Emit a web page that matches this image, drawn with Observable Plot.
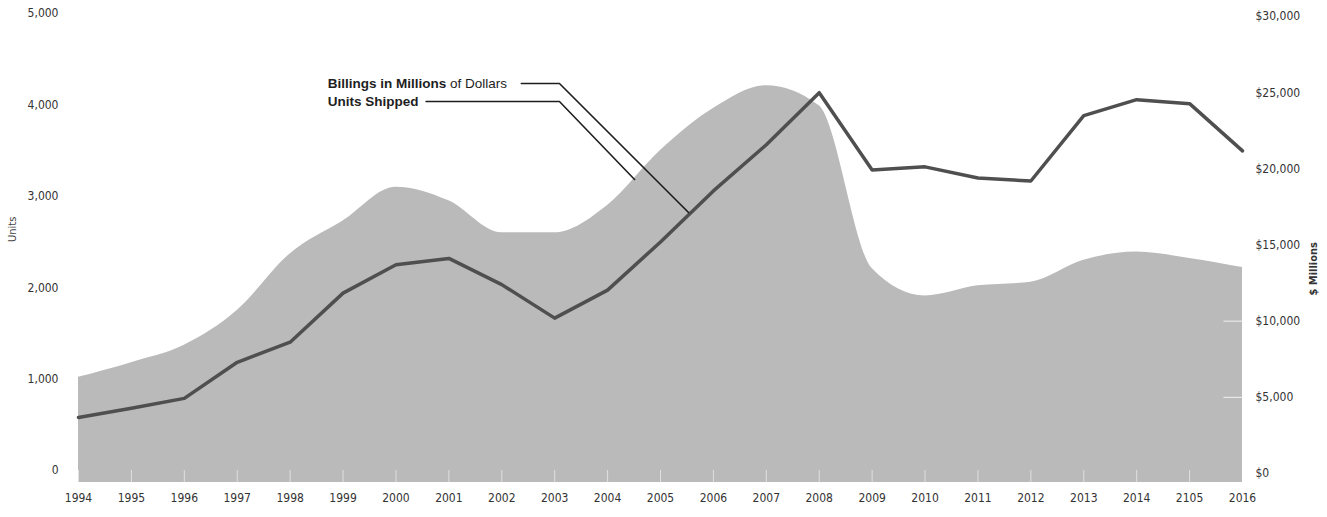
<!DOCTYPE html>
<html>
<head>
<meta charset="utf-8">
<script src="https://cdn.jsdelivr.net/npm/d3@7"></script>
<script src="https://cdn.jsdelivr.net/npm/@observablehq/plot@0.6"></script>
<style>
  body { margin: 0; background: #fff; }
  #chart svg { font-family: "Liberation Sans Narrow", "DejaVu Sans Condensed", "Liberation Sans", sans-serif; }
</style>
</head>
<body>
<div id="chart"></div>
<script>
// ---- data ----
const years = [1994,1995,1996,1997,1998,1999,2000,2001,2002,2003,2004,2005,2006,2007,2008,2009,2010,2011,2012,2013,2014,2015,2016];
const yearLabels = ["1994","1995","1996","1997","1998","1999","2000","2001","2002","2003","2004","2005","2006","2007","2008","2009","2010","2011","2012","2013","2014","2105","2016"];
const unitsShipped = [1020,1180,1370,1750,2370,2730,3100,2950,2600,2600,2900,3500,3960,4210,3990,2210,1910,2020,2060,2300,2390,2320,2220];
const billingsMillions = [3680,4280,4930,7300,8620,11840,13700,14120,12400,10200,12040,15200,18550,21580,25000,19930,20130,19400,19200,23490,24540,24280,21180];
const unitTicks = [0,1000,2000,3000,4000,5000];
const dollarTicks = [0,5000,10000,15000,20000,25000,30000];
const dollarsPerUnit = 6;          // right axis $ per left-axis unit
const areaBaseline = -130;         // area extends slightly below the zero line

// annotation leaders, in data space (year, units)
const billingsLeaderYears = [2002.37, 2003.09, 2005.53];
const billingsLeaderUnits = [4234, 4234, 2823];
const unitsLeaderYears = [2000.57, 2003.09, 2004.51];
const unitsLeaderUnits = [4037, 4037, 3184];
const labelYear = 1998.71;
const billingsLabelUnits = 4234;
const unitsLabelUnits = 4037;

// ---- tables ----
const table = years.map((year, i) => ({year, units: unitsShipped[i], billings: billingsMillions[i]}));
const leaders = [
  ...billingsLeaderYears.map((year, i) => ({series: "billings", year, units: billingsLeaderUnits[i]})),
  ...unitsLeaderYears.map((year, i) => ({series: "units", year, units: unitsLeaderUnits[i]}))
];
const labelOf = new Map(years.map((y, i) => [y, yearLabels[i]]));

const chart = Plot.plot({
  width: 1327,
  height: 517,
  marginLeft: 78,
  marginRight: 85,
  marginTop: 13,
  marginBottom: 47,
  x: {domain: [years[0], years[years.length - 1]]},
  y: {domain: [0, 5000]},
  style: {background: "#fff", color: "#333"},
  marks: [
    Plot.areaY(table, {x: "year", y1: areaBaseline, y2: "units", fill: "#bababa", curve: "monotone-x"}),
    Plot.ruleX(years, {x: d => d, y1: areaBaseline, y2: 0, stroke: "#fff", strokeOpacity: 0.55}),
    Plot.ruleY(dollarTicks.slice(1, 3), {y: d => d / dollarsPerUnit, x1: 2015.65, x2: years[years.length - 1], stroke: "#fff", strokeOpacity: 0.8, dy: 3}),
    Plot.line(table, {x: "year", y: d => d.billings / dollarsPerUnit, stroke: "#4f4f4f", strokeWidth: 3.5, strokeLinejoin: "round", dy: 3}),
    Plot.line(leaders, {x: "year", y: "units", z: "series", stroke: "#1e1e1e", strokeWidth: 1.6}),
    Plot.text(["Billings in Millions"], {x: labelYear, y: billingsLabelUnits, text: d => d, textAnchor: "start", fontWeight: "bold", fontSize: 13.5, fill: "#1e1e1e"}),
    Plot.text(["Units Shipped"], {x: labelYear, y: unitsLabelUnits, text: d => d, textAnchor: "start", fontWeight: "bold", fontSize: 13.5, fill: "#1e1e1e"}),
    Plot.axisX({ticks: years, tickFormat: d => labelOf.get(d), tickSize: 0, tickPadding: 23, fontSize: 12, label: null}),
    Plot.axisY({ticks: unitTicks, tickFormat: d3.format(","), tickSize: 0, tickPadding: 20, fontSize: 12, label: null}),
    Plot.axisY({anchor: "right", ticks: dollarTicks.map(d => d / dollarsPerUnit), tickFormat: d => "$" + d3.format(",")(Math.round(d * dollarsPerUnit)), tickSize: 0, tickPadding: 13, fontSize: 12, label: null, dy: 3}),
    Plot.text(["Units"], {frameAnchor: "left", text: d => d, rotate: -90, dx: -66, fontSize: 11, fill: "#444"}),
    Plot.text(["$ Millions"], {frameAnchor: "right", text: d => d, rotate: -90, dx: 71, fontSize: 11, fontWeight: "bold", fill: "#333"})
  ]
});

document.getElementById("chart").appendChild(chart);

// annotation text: bold + regular parts
const annot = d3.select(chart).selectAll("text")
  .filter(function () { return this.textContent === "Billings in Millions" || this.textContent === "Units Shipped"; });
annot.style("font-family", '"Liberation Sans", Arial, sans-serif');
annot.filter(function () { return this.textContent === "Billings in Millions"; })
  .append("tspan").attr("font-weight", "normal").text(" of Dollars");
</script>
</body>
</html>
